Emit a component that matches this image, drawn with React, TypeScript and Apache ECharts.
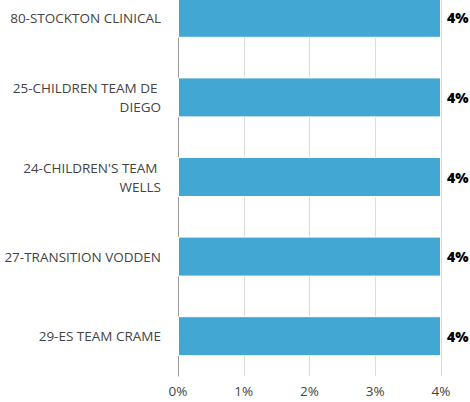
import React, { useEffect, useRef } from "react";
import * as echarts from "echarts";

const categories = [
  "80-STOCKTON CLINICAL",
  "25-CHILDREN TEAM DE DIEGO",
  "24-CHILDREN'S TEAM WELLS",
  "27-TRANSITION VODDEN",
  "29-ES TEAM CRAME",
];
const values = [4, 4, 4, 4, 4];
const xTicks = [0, 1, 2, 3, 4];

export default function App() {
  const ref = useRef<HTMLDivElement>(null);
  useEffect(() => {
    if (!ref.current) return;
    const chart = echarts.init(ref.current, null, { renderer: "svg" });
    const font = "'Open Sans', sans-serif";
    chart.setOption({
      animation: false,
      grid: { left: 178, right: 29, top: 0, bottom: 26, containLabel: false },
      xAxis: {
        type: "value",
        min: xTicks[0],
        max: xTicks[xTicks.length - 1],
        interval: 1,
        axisLine: { show: false },
        axisTick: { show: false },
        splitLine: { show: true, lineStyle: { color: "#dcdcdc", width: 1 } },
        axisLabel: {
          formatter: "{value}%",
          color: "#444",
          fontSize: 13.5,
          fontFamily: font,
          margin: 8,
        },
      },
      yAxis: {
        type: "category",
        inverse: true,
        data: categories,
        axisLine: { show: true, lineStyle: { color: "#999", width: 1 } },
        axisTick: { show: false },
        axisLabel: {
          color: "#444",
          fontSize: 13.5,
          fontFamily: font,
          margin: 17,
          width: 158,
          overflow: "break",
          lineHeight: 19,
          align: "right",
        },
      },
      series: [
        {
          type: "bar",
          data: values,
          barWidth: 40,
          itemStyle: { color: "#42a8d3", borderColor: "#fff", borderWidth: 1 },
          label: {
            show: true,
            position: "right",
            distance: 6,
            formatter: "{c}%",
            color: "#000",
            fontWeight: 800,
            fontSize: 14,
            fontFamily: font,
            textBorderColor: "#fff",
            textBorderWidth: 2,
          },
        },
      ],
    });
    return () => chart.dispose();
  }, []);
  return (
    <div
      ref={ref}
      style={{ position: "fixed", left: 0, top: -22, width: 470, height: 424, background: "#fff" }}
    />
  );
}
